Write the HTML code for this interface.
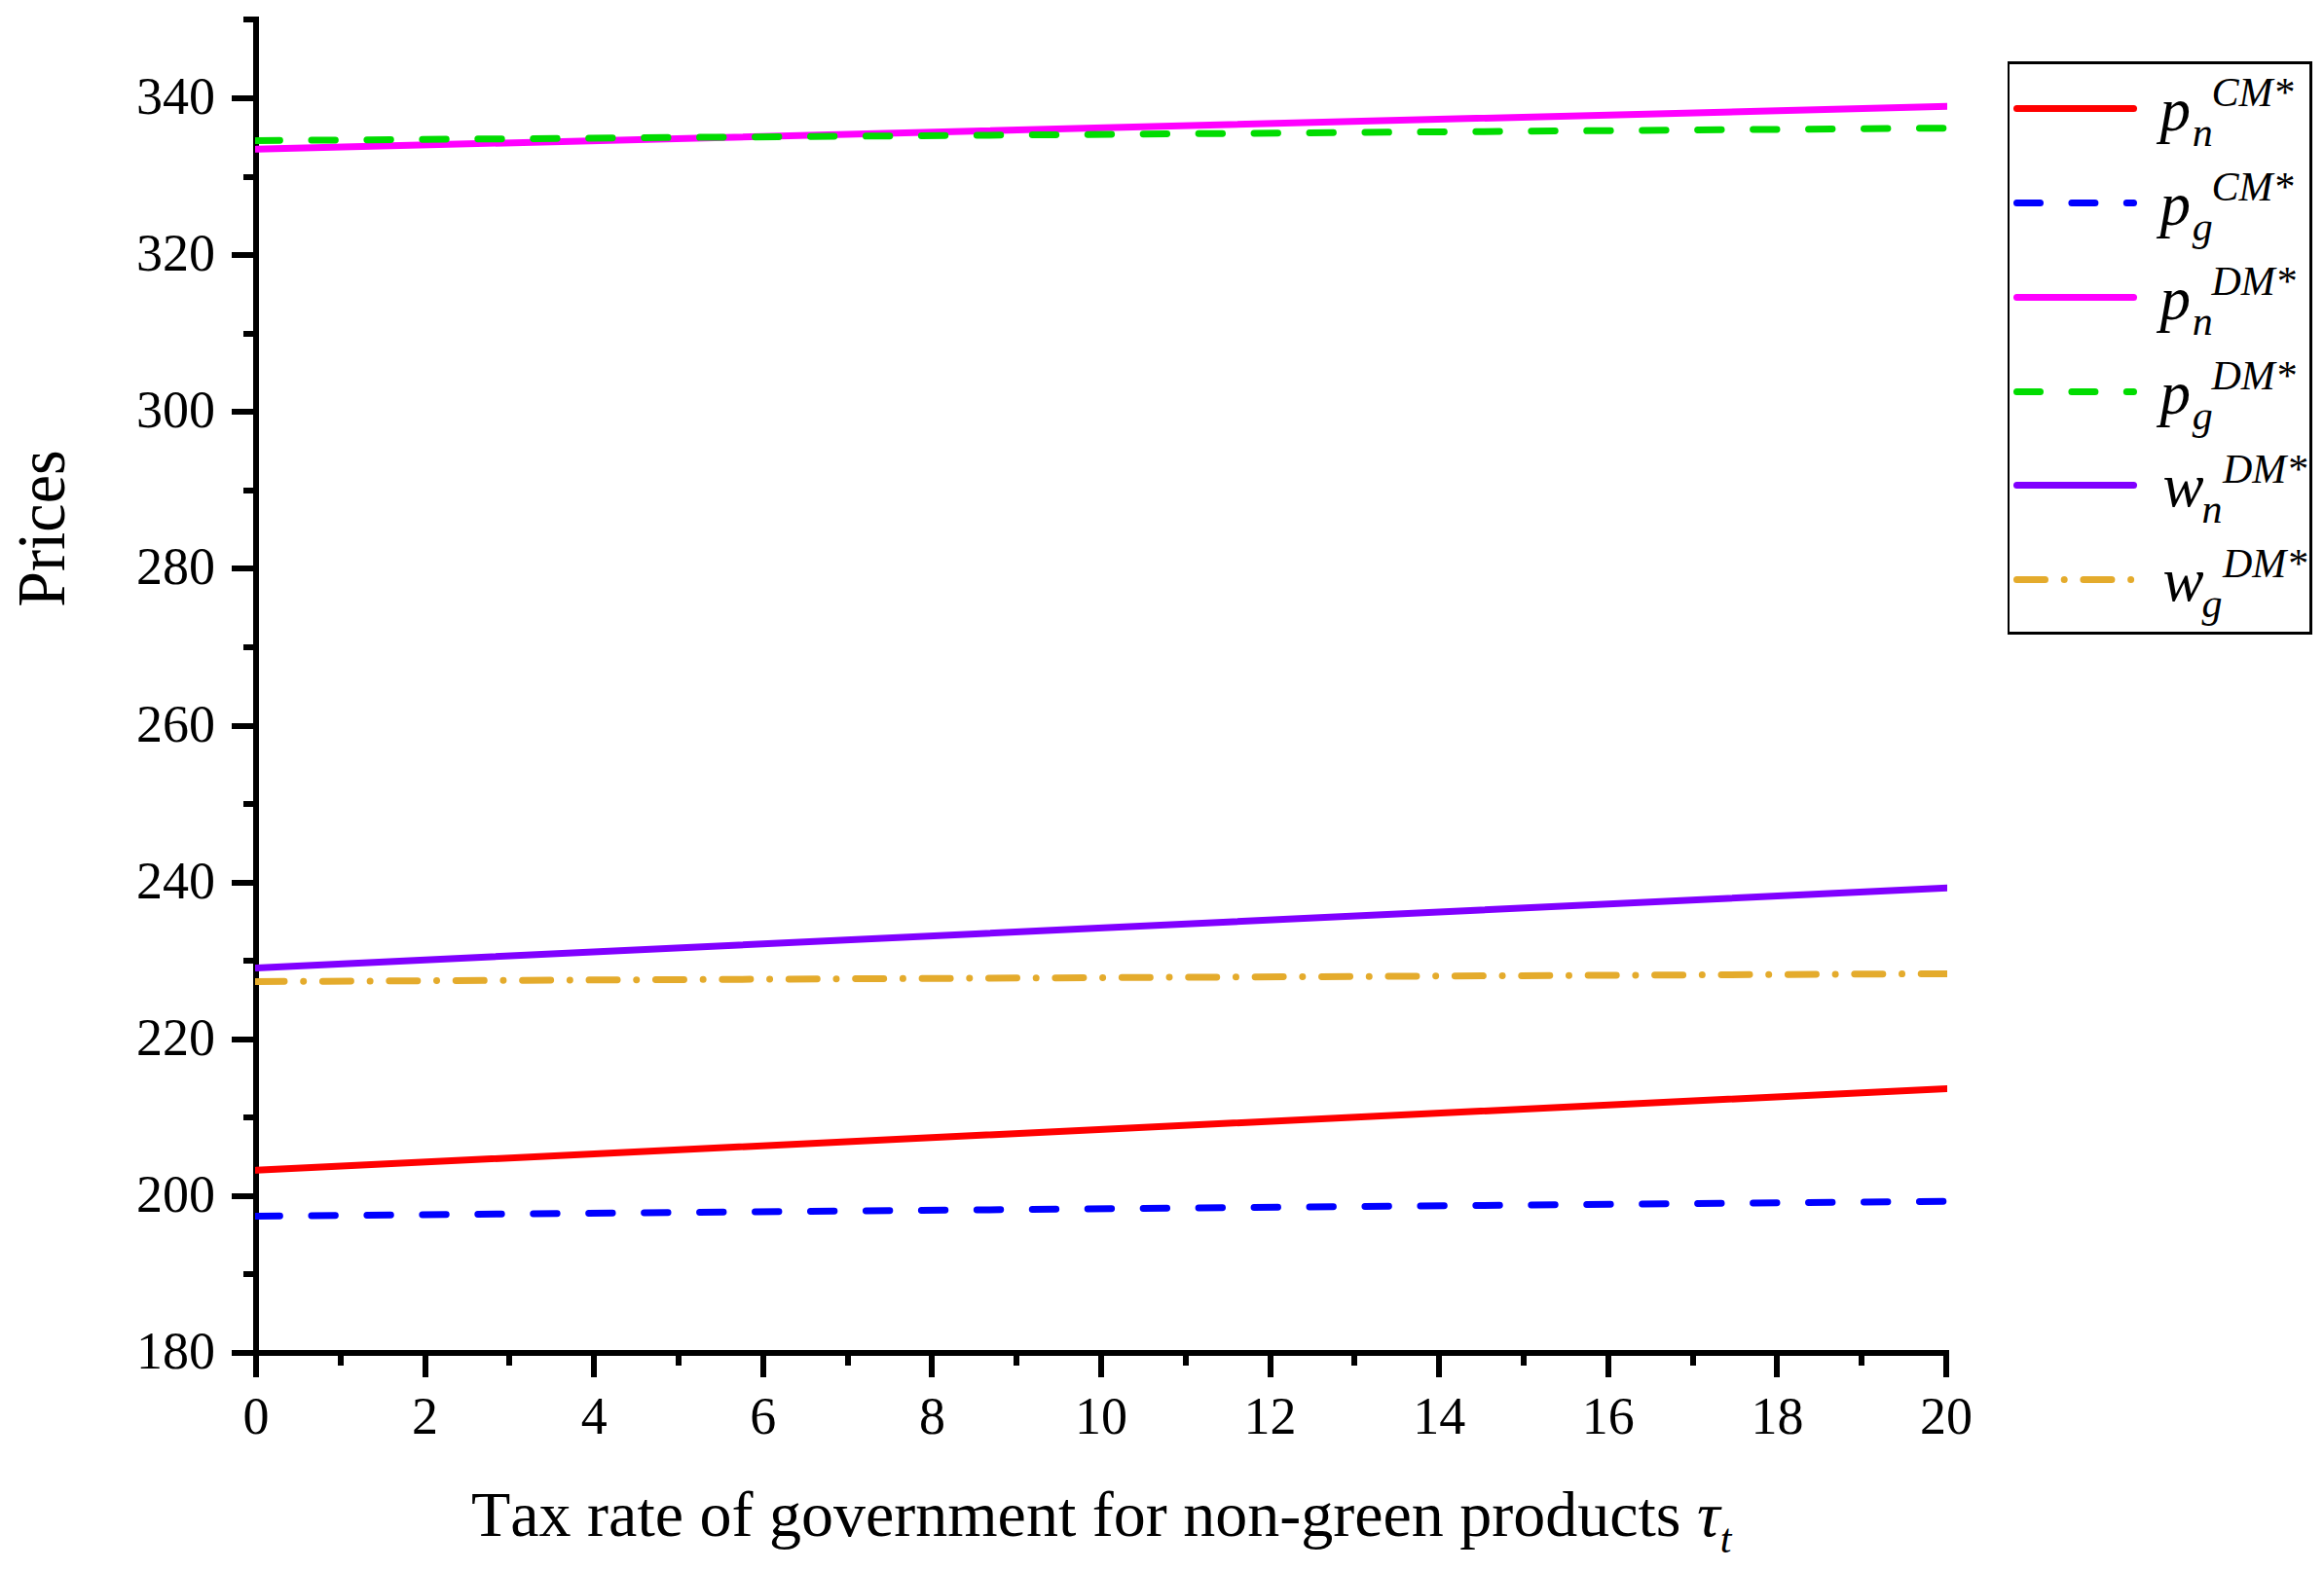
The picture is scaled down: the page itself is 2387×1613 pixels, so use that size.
<!DOCTYPE html>
<html lang="en"><head><meta charset="utf-8"><title>Prices vs tax rate</title>
<style>
html,body{margin:0;padding:0;background:#fff}
body{width:2387px;height:1613px;overflow:hidden}
svg{display:block}
text{font-family:"Liberation Serif","Times New Roman",serif;fill:#000;font-kerning:none}
.tk{font-size:54px}.ti{font-size:66px}.lg{font-size:63px;font-style:italic}.ss{font-size:42px;font-style:italic}
.ln{fill:none;stroke-width:7;stroke-linecap:round}
</style></head><body>
<svg width="2387" height="1613" viewBox="0 0 2387 1613">
<rect x="0" y="0" width="2387" height="1613" fill="#fff"/>
<defs><clipPath id="plot"><rect x="262" y="17" width="1738" height="1376"/></clipPath></defs>
<g fill="#000" shape-rendering="crispEdges">
<rect x="260" y="17" width="6" height="1376"/>
<rect x="260" y="1387" width="1742" height="6"/>
<rect x="238" y="1387" width="22" height="6"/>
<rect x="250" y="1306" width="10" height="6"/>
<rect x="238" y="1226" width="22" height="6"/>
<rect x="250" y="1145" width="10" height="6"/>
<rect x="238" y="1065" width="22" height="6"/>
<rect x="250" y="984" width="10" height="6"/>
<rect x="238" y="904" width="22" height="6"/>
<rect x="250" y="823" width="10" height="6"/>
<rect x="238" y="743" width="22" height="6"/>
<rect x="250" y="662" width="10" height="6"/>
<rect x="238" y="581" width="22" height="6"/>
<rect x="250" y="501" width="10" height="6"/>
<rect x="238" y="420" width="22" height="6"/>
<rect x="250" y="340" width="10" height="6"/>
<rect x="238" y="259" width="22" height="6"/>
<rect x="250" y="179" width="10" height="6"/>
<rect x="238" y="98" width="22" height="6"/>
<rect x="250" y="17" width="10" height="6"/>
<rect x="260" y="1393" width="6" height="22"/>
<rect x="347" y="1393" width="6" height="10"/>
<rect x="434" y="1393" width="6" height="22"/>
<rect x="520" y="1393" width="6" height="10"/>
<rect x="607" y="1393" width="6" height="22"/>
<rect x="694" y="1393" width="6" height="10"/>
<rect x="781" y="1393" width="6" height="22"/>
<rect x="868" y="1393" width="6" height="10"/>
<rect x="954" y="1393" width="6" height="22"/>
<rect x="1041" y="1393" width="6" height="10"/>
<rect x="1128" y="1393" width="6" height="22"/>
<rect x="1215" y="1393" width="6" height="10"/>
<rect x="1302" y="1393" width="6" height="22"/>
<rect x="1388" y="1393" width="6" height="10"/>
<rect x="1475" y="1393" width="6" height="22"/>
<rect x="1562" y="1393" width="6" height="10"/>
<rect x="1649" y="1393" width="6" height="22"/>
<rect x="1736" y="1393" width="6" height="10"/>
<rect x="1822" y="1393" width="6" height="22"/>
<rect x="1909" y="1393" width="6" height="10"/>
<rect x="1996" y="1393" width="6" height="22"/>
</g>
<g class="tk" text-anchor="end">
<text x="221" y="1406">180</text>
<text x="221" y="1244.88">200</text>
<text x="221" y="1083.75">220</text>
<text x="221" y="922.62">240</text>
<text x="221" y="761.5">260</text>
<text x="221" y="600.38">280</text>
<text x="221" y="439.25">300</text>
<text x="221" y="278.12">320</text>
<text x="221" y="117">340</text>
</g>
<g class="tk" text-anchor="middle">
<text x="263" y="1472.7">0</text>
<text x="436.6" y="1472.7">2</text>
<text x="610.2" y="1472.7">4</text>
<text x="783.8" y="1472.7">6</text>
<text x="957.4" y="1472.7">8</text>
<text x="1131" y="1472.7">10</text>
<text x="1304.6" y="1472.7">12</text>
<text x="1478.2" y="1472.7">14</text>
<text x="1651.8" y="1472.7">16</text>
<text x="1825.4" y="1472.7">18</text>
<text x="1999" y="1472.7">20</text>
</g>
<text class="ti" text-anchor="middle" transform="translate(66 543) rotate(-90) scale(1 1.045)">Prices</text>
<text class="ti" x="484" y="1578.3">Tax rate of government for non-green products <tspan font-style="italic">τ</tspan><tspan class="ss" dy="17">t</tspan></text>
<g clip-path="url(#plot)">
<path class="ln" stroke="#ff0000" d="M263 1202.29 L2005 1118.21"/>
<path class="ln" stroke="#0000ff" stroke-dasharray="24.4 32.55" d="M263 1249.5 L2005 1234.22"/>
<path class="ln" stroke="#ff00ff" d="M263 153.37 L2005 109.23"/>
<path class="ln" stroke="#00dc00" stroke-dasharray="24.4 32.55" d="M263 144.5 L2005 131.57"/>
<path class="ln" stroke="#8000ff" d="M263 994.44 L2005 911.98"/>
<path class="ln" stroke="#e4ab2c" stroke-dasharray="29 19.7 0.01 19.7" d="M263 1008.46 L2005 1000.37"/>
</g>
<g fill="#000" shape-rendering="crispEdges"><rect x="2062" y="63" width="313" height="3"/><rect x="2062" y="649" width="313" height="3"/><rect x="2062" y="63" width="2" height="589"/><rect x="2372" y="63" width="3" height="589"/></g>
<path class="ln" stroke="#ff0000" d="M2071.5 111.5 H2191.5"/>
<text class="lg" x="2218.5" y="133.5">p</text>
<text class="ss" x="2251.7" y="149.9">n</text>
<text class="ss" x="2271.5" y="108.9">CM*</text>
<path class="ln" stroke="#0000ff" stroke-dasharray="24 32.4" d="M2071.5 208.5 H2191.5"/>
<text class="lg" x="2218.5" y="230.5">p</text>
<text class="ss" x="2251.7" y="246.9">g</text>
<text class="ss" x="2271.5" y="205.9">CM*</text>
<path class="ln" stroke="#ff00ff" d="M2071.5 305.5 H2191.5"/>
<text class="lg" x="2218.5" y="327.5">p</text>
<text class="ss" x="2251.7" y="343.9">n</text>
<text class="ss" x="2271.5" y="302.9">DM*</text>
<path class="ln" stroke="#00dc00" stroke-dasharray="24 32.4" d="M2071.5 402.5 H2191.5"/>
<text class="lg" x="2218.5" y="424.5">p</text>
<text class="ss" x="2251.7" y="440.9">g</text>
<text class="ss" x="2271.5" y="399.9">DM*</text>
<path class="ln" stroke="#8000ff" d="M2071.5 498.5 H2191.5"/>
<text class="lg" x="2221.5" y="520">w</text>
<text class="ss" x="2261.6" y="536.9">n</text>
<text class="ss" x="2283" y="495.9">DM*</text>
<path class="ln" stroke="#e4ab2c" stroke-dasharray="29 19.7 0.01 19.7" d="M2071.5 595.5 H2191.5"/>
<text class="lg" x="2221.5" y="617">w</text>
<text class="ss" x="2261.6" y="633.9">g</text>
<text class="ss" x="2283" y="592.9">DM*</text>
</svg></body></html>
